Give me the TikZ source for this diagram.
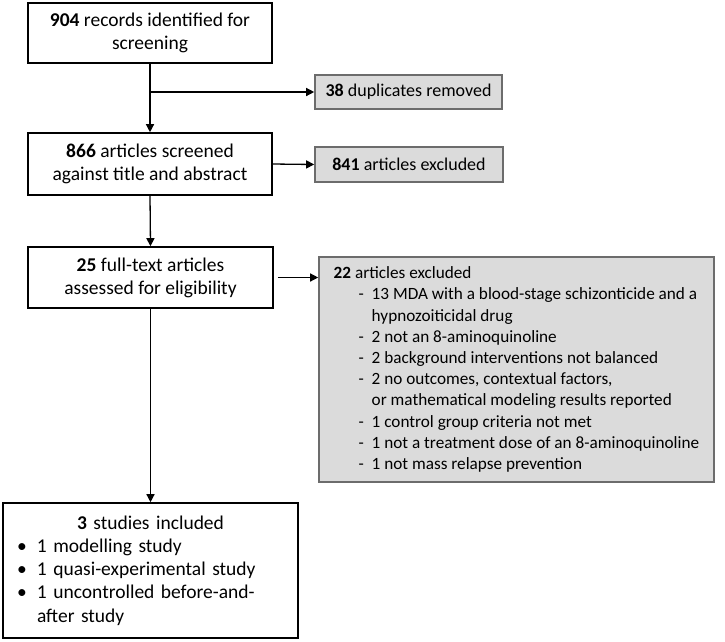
\documentclass[tikz,border=0pt]{standalone}
\usepackage{fontspec}
\setmainfont{Carlito}
\usetikzlibrary{arrows.meta, positioning}

\begin{document}
\begin{tikzpicture}[x=1pt, y=-1pt,
		  % Define the style of the main flow boxes
		  stage/.style={rectangle, draw=black, line width=1.6pt, align=center, font=\fontsize{19.5}{23.2}\selectfont},
		  % Define the style of the grey exclusion boxes
		  excl/.style={rectangle, draw=gray!85!black, line width=1.6pt, fill=gray!28, font=\fontsize{18}{21.2}\selectfont},
		  % Define the style of the arrows between boxes
		  arrow/.style={-{Triangle[length=8pt, width=8pt]}, line width=1.3pt}
		  ]

		  % Fix the size of the page
		  \useasboundingbox (0,0) rectangle (725,641);

		  % Main flow boxes
		  \node[stage, minimum width=244, minimum height=60] (records) at (150,33)
		    {\textbf{904} records identified for\\screening};
		  \node[stage, minimum width=244, minimum height=62] (screened) at (150,164)
		    {\textbf{866} articles screened\\against title and abstract};
		  \node[stage, minimum width=245, minimum height=61] (fulltext) at (150.5,277.5)
		    {\textbf{25} full-text articles\\assessed for eligibility};
		  \node[stage, align=left, text width=281, inner xsep=7, minimum height=135] (included) at (150.5,570.5)
		    {\makebox[\linewidth][c]{\textbf{3} studies included}\\
		     \hspace*{7pt}\makebox[20pt][l]{\textbullet}1 modelling study\\
		     \hspace*{7pt}\makebox[20pt][l]{\textbullet}1 quasi-experimental study\\
		     \hspace*{7pt}\makebox[20pt][l]{\textbullet}1 uncontrolled before-and-\\
		     \hspace*{27pt}after study};

		  % Exclusion boxes
		  \node[excl, minimum width=187, minimum height=34] (duplicates) at (408.5,92)
		    {\textbf{38} duplicates removed};
		  \node[excl, minimum width=188, minimum height=35] (excluded841) at (409,164.5)
		    {\textbf{841} articles excluded};
		  \node[excl, font=\fontsize{17.2}{21.2}\selectfont, align=left, minimum width=395, minimum height=225] (excluded22) at (516.5,369.5)
		    {\textbf{22} articles excluded\\
		     \hspace*{25pt}\makebox[13pt][l]{-}13 MDA with a blood-stage schizonticide and a\\
		     \hspace*{38pt}hypnozoiticidal drug\\
		     \hspace*{25pt}\makebox[13pt][l]{-}2 not an 8-aminoquinoline\\
		     \hspace*{25pt}\makebox[13pt][l]{-}2 background interventions not balanced\\
		     \hspace*{25pt}\makebox[13pt][l]{-}2 no outcomes, contextual factors,\\
		     \hspace*{38pt}or mathematical modeling results reported\\
		     \hspace*{25pt}\makebox[13pt][l]{-}1 control group criteria not met\\
		     \hspace*{25pt}\makebox[13pt][l]{-}1 not a treatment dose of an 8-aminoquinoline\\
		     \hspace*{25pt}\makebox[13pt][l]{-}1 not mass relapse prevention};

		  % Branch point for the duplicates
		  \coordinate (split) at (records.south |- duplicates.west);

		  % Connect the boxes
		  \foreach \a/\b in {records/screened, screened/fulltext, fulltext/included} {
		    \draw[arrow] (\a.south) -- (\b.north);
		  }
		  \draw[arrow] (split) -- (duplicates.west);
		  \draw[arrow] (screened.east) -- (excluded841.west);
		  \draw[arrow, shorten <=4pt] (fulltext.east) -- (fulltext.east -| excluded22.west);
		\end{tikzpicture}
\end{document}
